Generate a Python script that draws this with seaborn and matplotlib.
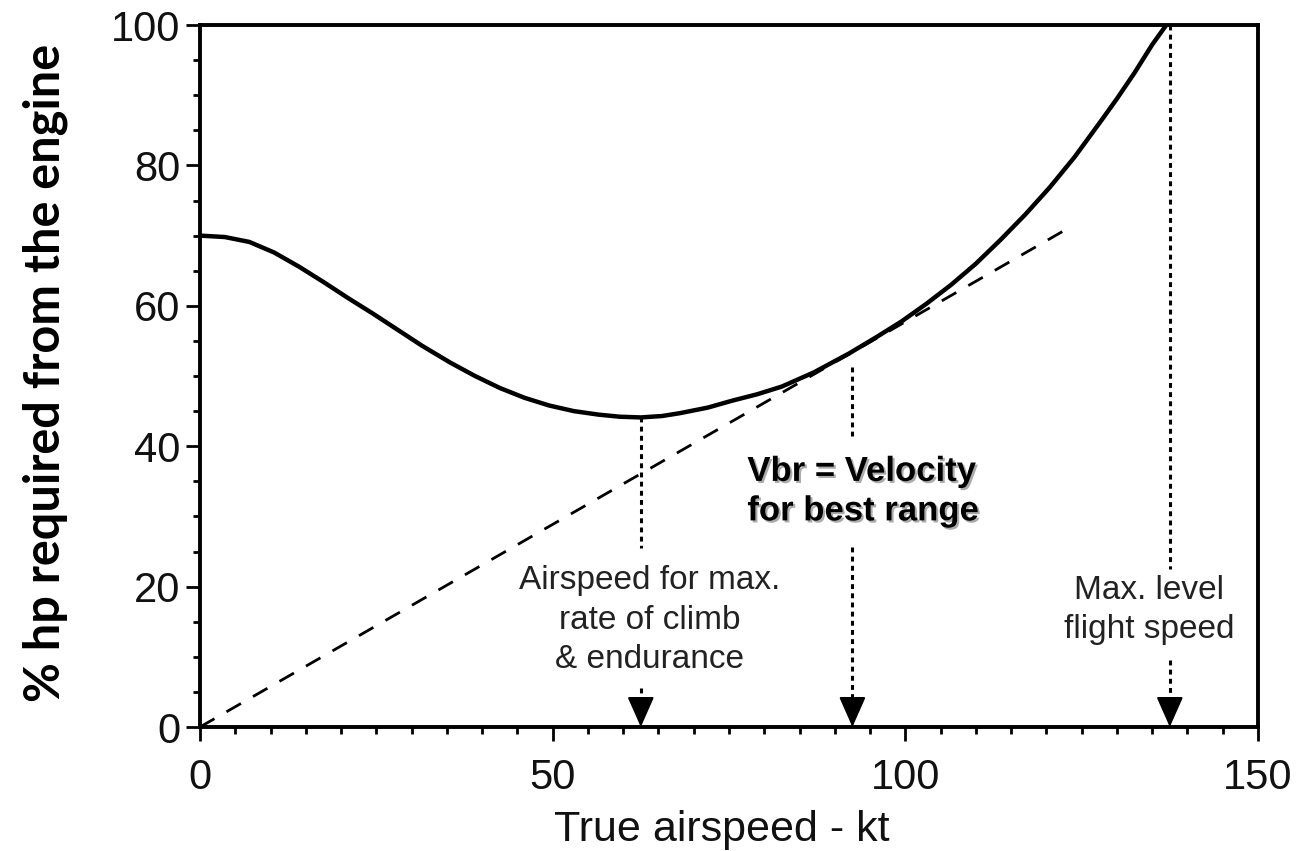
"""
Power required curve: % hp required vs true airspeed, with the tangent line
for best range and the marked characteristic speeds.
"""

import matplotlib
matplotlib.use("Agg")
import matplotlib.pyplot as plt
import matplotlib.patheffects as pe
from matplotlib.ticker import MultipleLocator
import seaborn as sns

# power-required curve (kt, % hp)
airspeed = [0, 3.5, 7, 10.5, 14, 17.5, 21, 24.5, 28, 31.5, 35.5, 39, 42.5, 46,
            49.5, 53, 56.5, 59.5, 62.5, 65.5, 68, 72, 75.5, 79, 82.5, 87, 92, 96,
            99.5, 103, 106.5, 110, 113.5, 117, 120.5, 124, 127.5, 130, 132.5, 135, 137]
hp_required = [70, 69.8, 69.1, 67.6, 65.6, 63.4, 61.1, 58.9, 56.6, 54.3, 51.9, 50, 48.3, 46.9,
               45.8, 45, 44.5, 44.2, 44.1, 44.3, 44.7, 45.5, 46.5, 47.4, 48.5, 50.5, 53.2, 55.6,
               57.8, 60.3, 63, 66, 69.4, 73, 76.9, 81.2, 86, 89.5, 93.2, 97.2, 100]

# tangent from the origin (best range)
tangent_speed = [0, 123]
tangent_hp = [0, 71]

# marked speeds and their dotted drop lines
mark_speed = [62.5, 92.5, 137.5]
drop_upper_top = [44.1, 51.3, 100]
drop_upper_bottom = [25.5, 41.5, 22.5]
drop_lower_top = [5.5, 25.6, 9.5]

x_ticks = [0, 50, 100, 150]
y_ticks = [0, 20, 40, 60, 80, 100]

climb_label = "Airspeed for max.\nrate of climb\n& endurance"
vmax_label = "Max. level\nflight speed"
vbr_label = "Vbr = Velocity\nfor best range"


def main():
    sns.set_theme(style="ticks")
    plt.rcParams["font.family"] = ["Liberation Sans", "DejaVu Sans"]

    fig = plt.figure(figsize=(13.02, 8.51), dpi=100)
    ax = fig.add_axes([0.1536, 0.1457, 0.8126, 0.8249])

    sns.lineplot(x=airspeed, y=hp_required, ax=ax, color="black", lw=3.2,
                 sort=False, estimator=None)
    sns.lineplot(x=tangent_speed, y=tangent_hp, ax=ax, color="black", lw=2,
                 linestyle=(0, (6, 5)), sort=False, estimator=None)

    dotted = dict(color="black", lw=2.2, linestyle=(0, (1.6, 1.4)))
    for x, t, b, lt in zip(mark_speed, drop_upper_top, drop_upper_bottom, drop_lower_top):
        ax.plot([x, x], [t, b], **dotted)
        ax.plot([x, x], [lt, 2], **dotted)
        ax.annotate("", xy=(x, 0), xytext=(x, 3.5), annotation_clip=False,
                    arrowprops=dict(arrowstyle="-|>,head_length=0.95,head_width=0.42",
                                    color="black", lw=1.5, mutation_scale=20,
                                    shrinkA=0, shrinkB=0))

    # annotations
    ax.text(63.7, 15.2, climb_label, ha="center", va="center", fontsize=24,
            linespacing=1.35, color="#222222")
    ax.text(134.6, 16.7, vmax_label, ha="center", va="center", fontsize=24,
            linespacing=1.35, color="#222222")
    ax.text(77.6, 33.6, vbr_label, ha="left", va="center", fontsize=25,
            fontweight="bold", linespacing=1.25, color="black",
            path_effects=[pe.withSimplePatchShadow(offset=(1.5, -1.5),
                                                   shadow_rgbFace="0.45", alpha=0.6)])

    ax.set_xlim(0, 150)
    ax.set_ylim(0, 100)
    ax.set_xticks(x_ticks)
    ax.set_yticks(y_ticks)
    ax.xaxis.set_minor_locator(MultipleLocator(5))
    ax.yaxis.set_minor_locator(MultipleLocator(5))
    ax.tick_params(axis="both", which="major", length=10, width=2, direction="out",
                   labelsize=30, color="black", labelcolor="#111111")
    ax.tick_params(axis="both", which="minor", length=5, width=2, direction="out",
                   color="black")
    ax.tick_params(axis="x", which="major", pad=12)
    ax.tick_params(axis="y", which="major", pad=4)

    for side in ["left", "right", "top", "bottom"]:
        ax.spines[side].set_visible(True)
        ax.spines[side].set_linewidth(2.8)
        ax.spines[side].set_color("black")

    ax.set_xlabel("True airspeed - kt", fontsize=31, color="#111111")
    ax.xaxis.set_label_coords(0.493, -0.118)
    ax.set_ylabel("% hp required from the engine", fontsize=35, fontweight="bold",
                  family=["Lato", "DejaVu Sans"], color="black")
    ax.yaxis.set_label_coords(-0.125, 0.505)

    fig.savefig("out.png", dpi=100, facecolor="white")
    plt.close(fig)


if __name__ == "__main__":
    main()
